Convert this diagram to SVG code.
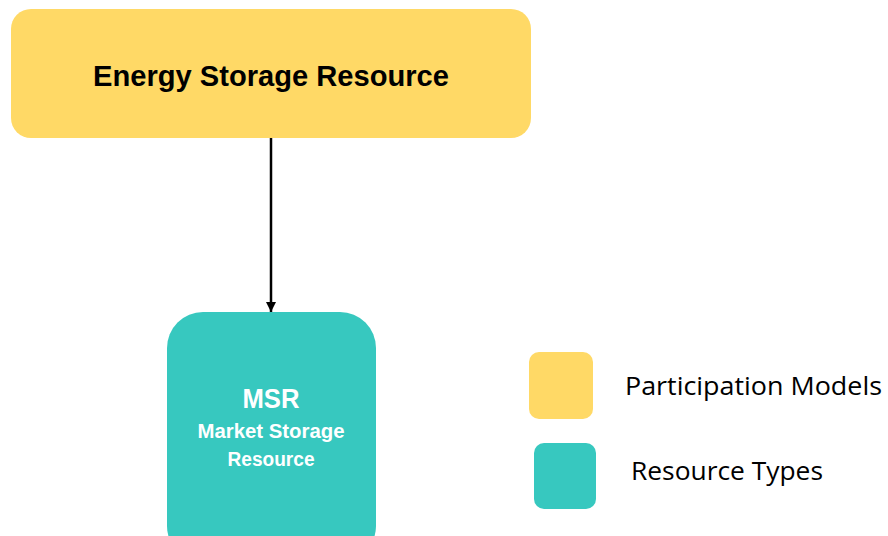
<svg xmlns="http://www.w3.org/2000/svg" width="888" height="536" viewBox="0 0 888 536">
<style>
.yel{fill:#FFD966}
.teal{fill:#37C8BF}
.bold{font-family:"Liberation Sans",Arial,sans-serif;font-weight:bold;text-anchor:middle}
.leg{font-family:"Open Sans","Noto Sans",sans-serif;font-size:25px;fill:#000}
</style>
<defs>
<marker id="ah" viewBox="0 0 10 10" refX="10" refY="5" markerWidth="4" markerHeight="4" markerUnits="strokeWidth" orient="auto">
<path d="M0,0 L10,5 L0,10 z" fill="#000"/>
</marker>
</defs>
<rect width="888" height="536" fill="#fff"/>
<g id="connectors">
<line x1="271" y1="138" x2="271" y2="312" stroke="#000" stroke-width="2.5" marker-end="url(#ah)"/>
</g>
<g id="esr">
<rect class="yel" x="11" y="9" width="520" height="129" rx="20"/>
<text class="bold" x="271" y="86" font-size="29" fill="#000" textLength="356" lengthAdjust="spacingAndGlyphs">Energy Storage Resource</text>
</g>
<g id="msr">
<rect class="teal" x="167" y="312" width="209" height="250" rx="36"/>
<text class="bold" x="271" y="408" font-size="27" fill="#fff" textLength="57" lengthAdjust="spacingAndGlyphs">MSR</text>
<text class="bold" x="271" y="438" font-size="20" fill="#fff" textLength="147" lengthAdjust="spacingAndGlyphs">Market Storage</text>
<text class="bold" x="271" y="466" font-size="20" fill="#fff" textLength="87" lengthAdjust="spacingAndGlyphs">Resource</text>
</g>
<g id="legend-participation">
<rect class="yel" x="529" y="352" width="64" height="67" rx="10"/>
<text class="leg" x="625" y="395" textLength="257" lengthAdjust="spacingAndGlyphs">Participation Models</text>
</g>
<g id="legend-resource">
<rect class="teal" x="534" y="443" width="62" height="66" rx="10"/>
<text class="leg" x="631" y="480" textLength="192" lengthAdjust="spacingAndGlyphs">Resource Types</text>
</g>
</svg>
